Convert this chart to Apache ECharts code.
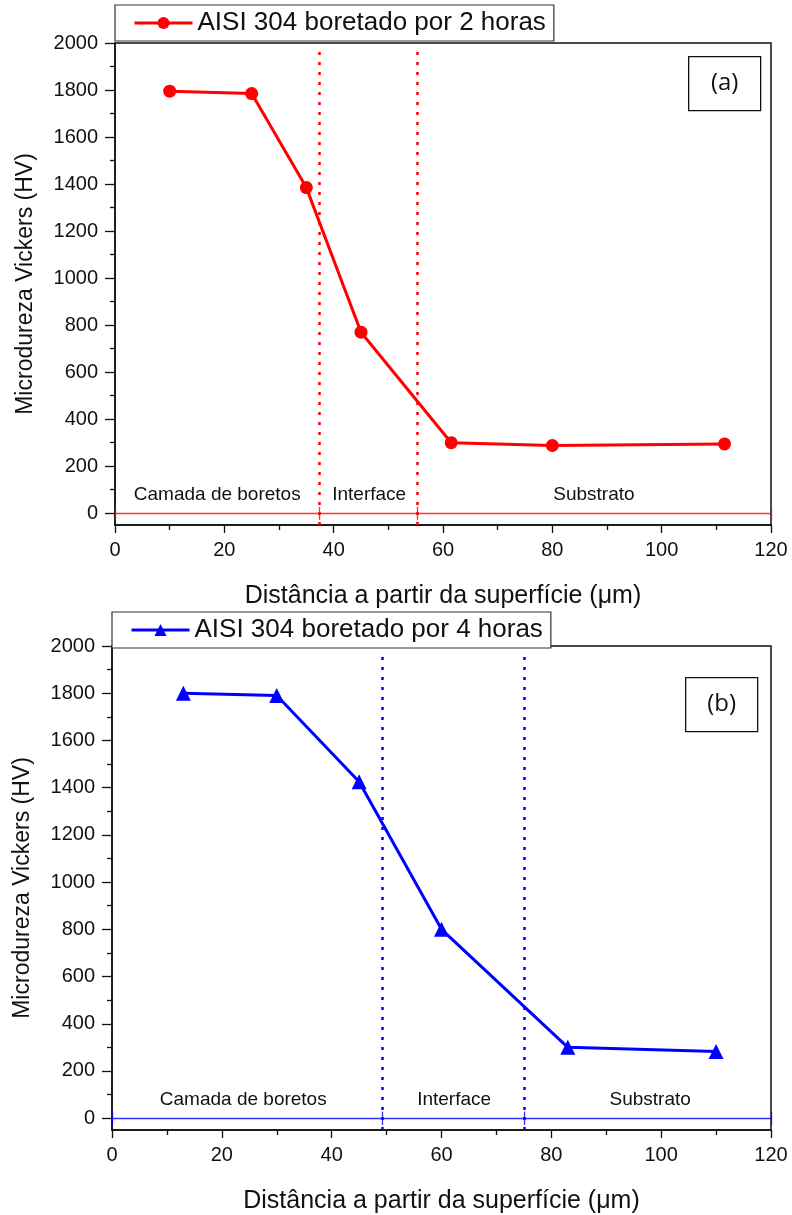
<!DOCTYPE html>
<html>
<head>
<meta charset="utf-8">
<script src="https://cdn.jsdelivr.net/npm/echarts@6/dist/echarts.min.js"></script>
<style>
html,body{margin:0;padding:0;background:#fff;}
#chart{width:792px;height:1215px;}
</style>
</head>
<body>
<div id="chart"></div>
<script>
// ---- data ----
const seriesNameA = 'AISI 304 boretado por 2 horas';
const seriesNameB = 'AISI 304 boretado por 4 horas';
const distA = [10, 25, 35, 45, 61.5, 80, 111.5];
const hardA = [1795, 1785, 1385, 770, 300, 288, 295];
const distB = [13, 30, 45, 60, 83, 110];
const hardB = [1800, 1790, 1425, 800, 300, 283];
const boundsA = [37.3, 55.2];
const boundsB = [49.3, 75];
const regionNames = ['Camada de boretos', 'Interface', 'Substrato'];
const regionXA = [18.7, 46.5, 87.6];
const regionXB = [23.9, 62.3, 98];
const regionY = 80;
const yMajorTicks = [0, 200, 400, 600, 800, 1000, 1200, 1400, 1600, 1800, 2000];
const yMinorTicks = [100, 300, 500, 700, 900, 1100, 1300, 1500, 1700, 1900];
const xAxisTitle = 'Distância a partir da superfície (μm)';
const yAxisTitle = 'Microdureza Vickers (HV)';
const panelLabels = ['(a)', '(b)'];

// ---- chart ----
const FONT = 'Liberation Sans';
const chart = echarts.init(document.getElementById('chart'));

const grids = [
  {left: 115, right: 21, top: 43, height: 482},
  {left: 112, right: 21, top: 646, height: 484}
];

function xAxisFor(gi) {
  return {
    type: 'value', gridIndex: gi, min: 0, max: 120, interval: 20,
    name: xAxisTitle, nameLocation: 'middle', nameGap: 59,
    nameTextStyle: {fontFamily: FONT, fontSize: 25, color: '#111'},
    axisLine: {onZero: false, lineStyle: {color: '#111', width: 1.5}},
    axisTick: {show: true, inside: false, length: 8, lineStyle: {color: '#111', width: 1.3}},
    minorTick: {show: true, splitNumber: 2, length: 5, lineStyle: {color: '#111', width: 1.3}},
    axisLabel: {fontFamily: FONT, fontSize: 20, color: '#111', margin: 15, formatter: v => String(v)},
    splitLine: {show: false}, minorSplitLine: {show: false}
  };
}
function yAxisMajor(gi) {
  return {
    type: 'value', gridIndex: gi, min: -50, max: 2000, position: 'left',
    name: yAxisTitle, nameLocation: 'middle', nameGap: 78, nameRotate: 90,
    nameTextStyle: {fontFamily: FONT, fontSize: 23, color: '#111'},
    axisLine: {show: true, onZero: false, lineStyle: {color: '#111', width: 1.5}},
    axisTick: {show: true, inside: false, length: 10, customValues: yMajorTicks, lineStyle: {color: '#111', width: 1.3}},
    axisLabel: {fontFamily: FONT, fontSize: 20, color: '#111', margin: 17, customValues: yMajorTicks,
      formatter: v => String(v)},
    splitLine: {show: false}
  };
}
function yAxisMinor(gi) {
  return {
    type: 'value', gridIndex: gi, min: -50, max: 2000, position: 'left', offset: 0,
    axisLine: {show: false, onZero: false},
    axisTick: {show: true, inside: false, length: 5, customValues: yMinorTicks, lineStyle: {color: '#111', width: 1.3}},
    axisLabel: {show: false, customValues: yMinorTicks},
    splitLine: {show: false}
  };
}

function boundaryMarkLine(bounds, color) {
  const d = [];
  bounds.forEach(b => d.push([{coord: [b, -50], lineStyle: {type: [3, 7], width: 2.5, color: color, opacity: 1}}, {coord: [b, 1975]}]));
  d.push([{coord: [0, 0]}, {coord: [120, 0]}]);
  [0].concat(bounds, [120]).forEach(b => d.push([{coord: [b, -28]}, {coord: [b, 28]}]));
  return {
    silent: true, symbol: 'none', label: {show: false}, animation: false,
    lineStyle: {type: 'solid', width: 1.3, color: color, opacity: 0.8},
    data: d
  };
}

function regionSeries(xi, yi, xs) {
  return {
    type: 'scatter', xAxisIndex: xi, yAxisIndex: yi, symbolSize: 1, silent: true,
    data: xs.map((x, i) => [x, regionY, regionNames[i]]),
    label: {show: true, position: 'inside', formatter: p => p.data[2],
      fontFamily: FONT, fontSize: 19, color: '#111', opacity: 1},
    itemStyle: {color: 'rgba(0,0,0,0)'},
    z: 6
  };
}

function panelBox(x, y, text) {
  return {
    type: 'group', left: x, top: y,
    children: [
      {type: 'rect', shape: {x: 0, y: 0, width: 72, height: 54},
        style: {fill: '#fff', stroke: '#111', lineWidth: 1.3}},
      {type: 'text', x: 36, y: 27,
        style: {text: text, fontFamily: 'Open Sans', fontSize: 24,
          fill: '#111', align: 'center', verticalAlign: 'middle'}}
    ]
  };
}

const legendCommon = {
  orient: 'horizontal', backgroundColor: '#fff', borderColor: '#333', borderWidth: 1.2,
  borderRadius: 0, padding: [5, 8, 5, 18], itemWidth: 58, itemHeight: 15, itemGap: 8,
  lineStyle: {width: 3},
  textStyle: {fontFamily: FONT, fontSize: 26, color: '#111'}
};

chart.setOption({
  animation: false,
  backgroundColor: '#fff',
  grid: grids.map(g => Object.assign({show: true, borderColor: '#111', borderWidth: 1.5, backgroundColor: 'transparent'}, g)),
  xAxis: [xAxisFor(0), xAxisFor(1)],
  yAxis: [yAxisMajor(0), yAxisMinor(0), yAxisMajor(1), yAxisMinor(1)],
  legend: [
    Object.assign({left: 115, top: 5, data: [seriesNameA]}, legendCommon),
    Object.assign({left: 112, top: 612, data: [seriesNameB]}, legendCommon)
  ],
  graphic: [panelBox(688, 56, panelLabels[0]), panelBox(685, 677, panelLabels[1])],
  series: [
    {
      name: seriesNameA, type: 'line', xAxisIndex: 0, yAxisIndex: 0,
      data: distA.map((x, i) => [x, hardA[i]]),
      symbol: 'circle', symbolSize: 13,
      lineStyle: {color: '#ff0000', width: 3},
      itemStyle: {color: '#ff0000'},
      markLine: boundaryMarkLine(boundsA, '#ff0000'),
      z: 5
    },
    {
      name: seriesNameB, type: 'line', xAxisIndex: 1, yAxisIndex: 2,
      data: distB.map((x, i) => [x, hardB[i]]),
      symbol: 'triangle', symbolSize: 15,
      lineStyle: {color: '#0000ff', width: 3},
      itemStyle: {color: '#0000ff'},
      markLine: boundaryMarkLine(boundsB, '#0000ff'),
      z: 5
    },
    regionSeries(0, 0, regionXA),
    regionSeries(1, 2, regionXB)
  ]
});
</script>
</body>
</html>
